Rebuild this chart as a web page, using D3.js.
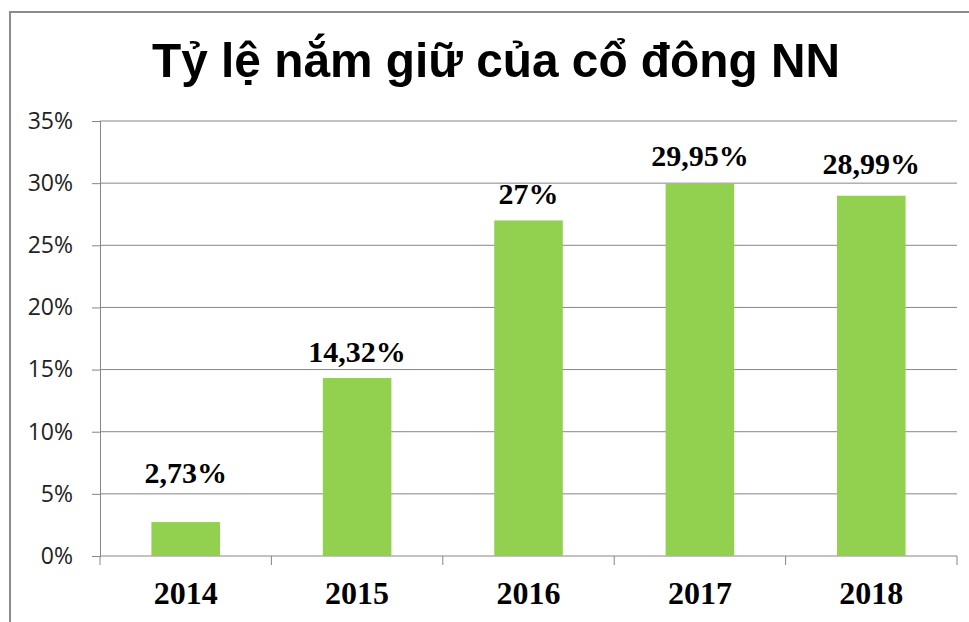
<!DOCTYPE html>
<html>
<head>
<meta charset="utf-8">
<script src="https://cdn.jsdelivr.net/npm/d3@7"></script>
<style>
  body { margin: 0; background: #fff; }
  svg { display: block; }
</style>
</head>
<body>
<svg id="chart" width="969" height="622"></svg>
<script>
const title = "Tỷ lệ nắm giữ của cổ đông NN"
const years = ["2014", "2015", "2016", "2017", "2018"]
const values = [2.73, 14.32, 27, 29.95, 28.99]
const valueLabels = ["2,73%", "14,32%", "27%", "29,95%", "28,99%"]
const labelLift = [39, 16, 16, 18, 22]
const yTicks = [0, 5, 10, 15, 20, 25, 30, 35]

const width = 969, height = 622
const plotLeft = 100, plotRight = 957, plotTop = 121, plotBottom = 556

const svg = d3.select('#chart')

// khung ngoai
svg.append('rect')
    .attr('x', 10).attr('y', 12)
    .attr('width', 980).attr('height', 640)
    .attr('fill', 'none')
    .attr('stroke', '#8c8c8c')
    .attr('stroke-width', 2)

svg.append('text')
    .attr('x', 496).attr('y', 77)
    .attr('text-anchor', 'middle')
    .attr('font-family', 'Liberation Sans, Arial, sans-serif')
    .attr('font-weight', 'bold')
    .attr('font-size', 49)
    .attr('textLength', 688)
    .attr('lengthAdjust', 'spacingAndGlyphs')
    .text(title)

const x = d3.scaleBand()
    .domain(years)
    .range([plotLeft, plotRight])
    .paddingInner(0.6)
    .paddingOuter(0.3)

const y = d3.scaleLinear()
    .domain([0, 35])
    .range([plotBottom, plotTop])

// luoi ngang
svg.append('g')
    .selectAll('line')
    .data(yTicks)
    .join('line')
    .attr('x1', plotLeft).attr('x2', plotRight)
    .attr('y1', d => y(d)).attr('y2', d => y(d))
    .attr('stroke', '#868686')
    .attr('stroke-width', 1)

const yAxis = svg.append('g')
    .attr('transform', `translate(${plotLeft},0)`)
    .call(d3.axisLeft(y).tickValues(yTicks).tickSize(8).tickPadding(19).tickFormat(d => d + '%'))
yAxis.select('.domain').attr('stroke', '#868686')
yAxis.selectAll('.tick line').attr('stroke', '#868686')
yAxis.selectAll('text')
    .attr('font-family', 'Open Sans, sans-serif')
    .attr('font-size', 23)
    .attr('fill', '#222')

// vach chia truc x
const bounds = years.map(d => x(d) - x.step() * x.paddingInner() / 2)
bounds[0] = plotLeft
bounds.push(plotRight)
svg.append('g')
    .selectAll('line')
    .data(bounds)
    .join('line')
    .attr('x1', d => d).attr('x2', d => d)
    .attr('y1', plotBottom).attr('y2', plotBottom + 9)
    .attr('stroke', '#868686')

svg.append('g')
    .selectAll('rect')
    .data(values)
    .join('rect')
    .attr('x', (d, i) => x(years[i]))
    .attr('y', d => y(d))
    .attr('width', x.bandwidth())
    .attr('height', d => plotBottom - y(d))
    .attr('fill', '#92d050')

svg.append('g')
    .selectAll('text')
    .data(values)
    .join('text')
    .attr('x', (d, i) => x(years[i]) + x.bandwidth() / 2)
    .attr('y', (d, i) => y(d) - labelLift[i])
    .attr('text-anchor', 'middle')
    .attr('font-family', 'Liberation Serif, Times New Roman, serif')
    .attr('font-weight', 'bold')
    .attr('font-size', 30)
    .text((d, i) => valueLabels[i])

svg.append('g')
    .selectAll('text')
    .data(years)
    .join('text')
    .attr('x', d => x(d) + x.bandwidth() / 2)
    .attr('y', 604)
    .attr('text-anchor', 'middle')
    .attr('font-family', 'Liberation Serif, Times New Roman, serif')
    .attr('font-weight', 'bold')
    .attr('font-size', 32)
    .text(d => d)
</script>
</body>
</html>
